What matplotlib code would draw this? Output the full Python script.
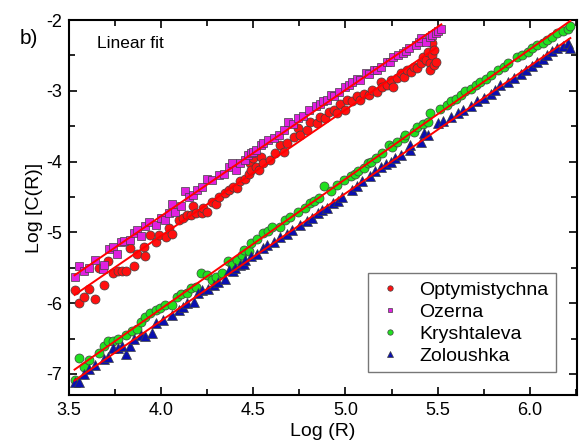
import matplotlib
matplotlib.use('Agg')
import matplotlib.pyplot as plt
import numpy as np
from matplotlib.ticker import MultipleLocator

plt.rcParams['font.family'] = ['Liberation Sans', 'DejaVu Sans']

# Optymistychna (red circles)
opt_x = [3.53, 3.554, 3.58, 3.61, 3.64, 3.665, 3.69, 3.71, 3.74, 3.765, 3.79, 3.81, 3.83, 3.85,
         3.87, 3.905, 3.91, 3.94, 3.97, 3.99, 4.025, 4.045, 4.06, 4.095, 4.12, 4.14, 4.16, 4.17,
         4.19, 4.22, 4.225, 4.25, 4.275, 4.30, 4.315, 4.345, 4.37, 4.39, 4.41, 4.43, 4.455, 4.475,
         4.48, 4.49, 4.50, 4.515, 4.53, 4.54, 4.55, 4.59, 4.62, 4.645, 4.665, 4.68, 4.72, 4.745,
         4.755, 4.79, 4.81, 4.845, 4.86, 4.89, 4.91, 4.935, 4.955, 4.97, 5.0, 5.01, 5.035, 5.06,
         5.08, 5.10, 5.125, 5.145, 5.17, 5.19, 5.20, 5.225, 5.245, 5.26, 5.28, 5.30, 5.32, 5.335,
         5.355, 5.37, 5.39, 5.41, 5.42, 5.435, 5.445, 5.46, 5.46, 5.47, 5.47, 5.48, 5.48, 5.49]
opt_y = [-5.81, -6.00, -5.92, -5.80, -5.94, -5.50, -5.74, -5.40, -5.57, -5.55, -5.55, -5.55, -5.22, -5.48,
         -5.31, -5.20, -5.34, -5.04, -5.13, -5.04, -5.07, -4.94, -5.02, -4.83, -4.80, -4.75, -4.75, -4.63,
         -4.73, -4.73, -4.65, -4.71, -4.57, -4.60, -4.50, -4.45, -4.40, -4.36, -4.38, -4.28, -4.24, -4.18,
         -4.02, -4.12, -3.95, -4.07, -4.12, -3.93, -4.02, -3.98, -3.88, -3.77, -3.86, -3.74, -3.65, -3.53,
         -3.62, -3.55, -3.44, -3.46, -3.37, -3.39, -3.30, -3.27, -3.32, -3.18, -3.27, -3.13, -3.15, -3.08,
         -3.13, -3.04, -3.06, -2.99, -3.01, -2.87, -2.94, -2.92, -2.85, -2.94, -2.82, -2.75, -2.80, -2.71,
         -2.73, -2.66, -2.68, -2.61, -2.52, -2.56, -2.45, -2.61, -2.71, -2.49, -2.33, -2.42, -2.64, -2.59]

# Ozerna (magenta squares)
oz_x = [3.53, 3.555, 3.58, 3.61, 3.64, 3.685, 3.69, 3.715, 3.74, 3.76, 3.78, 3.80, 3.83, 3.85,
        3.87, 3.89, 3.91, 3.935, 3.97, 4.0, 4.02, 4.045, 4.06, 4.075, 4.11, 4.13, 4.15, 4.17,
        4.195, 4.22, 4.25, 4.275, 4.315, 4.34, 4.37, 4.385, 4.405, 4.43, 4.455, 4.47, 4.49, 4.50,
        4.515, 4.54, 4.555, 4.58, 4.61, 4.64, 4.665, 4.69, 4.715, 4.74, 4.77, 4.80, 4.84, 4.86,
        4.88, 4.90, 4.92, 4.94, 4.965, 5.0, 5.02, 5.035, 5.06, 5.08, 5.11, 5.13, 5.155, 5.17,
        5.19, 5.225, 5.24, 5.26, 5.285, 5.31, 5.33, 5.345, 5.38, 5.40, 5.41, 5.435, 5.46, 5.47,
        5.49, 5.50, 5.52]
oz_y = [-5.63, -5.47, -5.54, -5.51, -5.39, -5.52, -5.46, -5.23, -5.20, -5.30, -5.13, -5.12, -5.11, -5.01,
        -4.96, -5.05, -4.91, -4.86, -4.90, -4.80, -4.82, -4.73, -4.60, -4.71, -4.63, -4.41, -4.50, -4.47,
        -4.40, -4.36, -4.24, -4.26, -4.19, -4.17, -4.07, -4.02, -4.12, -4.02, -3.98, -3.91, -3.88, -3.86,
        -3.84, -3.77, -3.74, -3.70, -3.67, -3.62, -3.55, -3.44, -3.47, -3.39, -3.35, -3.27, -3.22, -3.19,
        -3.15, -3.13, -3.06, -3.08, -3.01, -2.94, -2.92, -2.87, -2.83, -2.85, -2.75, -2.76, -2.71, -2.70,
        -2.66, -2.59, -2.60, -2.52, -2.50, -2.47, -2.44, -2.40, -2.35, -2.31, -2.26, -2.31, -2.24, -2.21,
        -2.19, -2.16, -2.12]

# Kryshtaleva (green circles)
kr_x = [3.53, 3.554, 3.58, 3.61, 3.665, 3.69, 3.71, 3.74, 3.765, 3.81, 3.84, 3.87, 3.89, 3.91,
        3.94, 3.97, 3.995, 4.02, 4.06, 4.085, 4.11, 4.14, 4.16, 4.19, 4.215, 4.25, 4.275, 4.30,
        4.33, 4.36, 4.385, 4.41, 4.44, 4.45, 4.475, 4.49, 4.52, 4.555, 4.58, 4.60, 4.645, 4.67,
        4.70, 4.74, 4.78, 4.81, 4.83, 4.855, 4.885, 4.92, 4.955, 4.99, 5.03, 5.05, 5.07, 5.10,
        5.12, 5.14, 5.165, 5.20, 5.235, 5.25, 5.28, 5.32, 5.325, 5.37, 5.39, 5.42, 5.45, 5.46,
        5.515, 5.55, 5.57, 5.60, 5.625, 5.65, 5.68, 5.71, 5.73, 5.76, 5.79, 5.825, 5.86, 5.88,
        5.93, 5.96, 5.99, 6.01, 6.04, 6.07, 6.095, 6.12, 6.15, 6.18, 6.205, 6.22]
kr_y = [-7.08, -6.78, -6.90, -6.80, -6.70, -6.60, -6.54, -6.53, -6.51, -6.45, -6.40, -6.36, -6.26, -6.19,
        -6.14, -6.10, -6.07, -6.03, -6.03, -5.91, -5.87, -5.86, -5.79, -5.77, -5.57, -5.60, -5.67, -5.63,
        -5.58, -5.41, -5.46, -5.39, -5.32, -5.25, -5.27, -5.15, -5.10, -5.01, -4.98, -4.92, -4.92, -4.82,
        -4.78, -4.71, -4.66, -4.59, -4.55, -4.52, -4.35, -4.42, -4.33, -4.26, -4.21, -4.18, -4.14, -4.09,
        -4.02, -4.00, -3.95, -3.88, -3.77, -3.80, -3.72, -3.67, -3.62, -3.58, -3.51, -3.47, -3.44, -3.32,
        -3.25, -3.20, -3.15, -3.12, -3.06, -3.00, -2.97, -2.92, -2.87, -2.84, -2.78, -2.71, -2.67, -2.61,
        -2.52, -2.50, -2.45, -2.40, -2.35, -2.32, -2.28, -2.24, -2.19, -2.15, -2.12, -2.08]

# Zoloushka (blue triangles)
zo_x = [3.53, 3.554, 3.58, 3.61, 3.64, 3.69, 3.71, 3.74, 3.765, 3.79, 3.81, 3.83, 3.85, 3.89,
        3.91, 3.95, 3.97, 4.01, 4.06, 4.095, 4.12, 4.14, 4.18, 4.20, 4.22, 4.255, 4.285, 4.31,
        4.345, 4.37, 4.39, 4.40, 4.43, 4.45, 4.455, 4.49, 4.52, 4.55, 4.575, 4.61, 4.645, 4.68,
        4.71, 4.755, 4.79, 4.82, 4.85, 4.875, 4.90, 4.93, 4.96, 4.98, 5.035, 5.06, 5.09, 5.135,
        5.16, 5.19, 5.22, 5.245, 5.27, 5.30, 5.35, 5.35, 5.41, 5.425, 5.45, 5.50, 5.53, 5.57,
        5.61, 5.64, 5.68, 5.715, 5.75, 5.79, 5.81, 5.84, 5.88, 5.915, 5.95, 5.98, 6.01, 6.04,
        6.07, 6.095, 6.12, 6.15, 6.18, 6.205, 6.22]
zo_y = [-7.11, -7.12, -7.00, -6.93, -6.87, -6.79, -6.76, -6.64, -6.64, -6.61, -6.72, -6.61, -6.50, -6.45,
        -6.46, -6.42, -6.28, -6.24, -6.17, -6.10, -6.05, -6.00, -5.99, -5.86, -5.81, -5.80, -5.74, -5.70,
        -5.66, -5.53, -5.55, -5.51, -5.46, -5.44, -5.39, -5.34, -5.30, -5.22, -5.18, -5.13, -5.06, -5.02,
        -4.97, -4.90, -4.84, -4.80, -4.73, -4.68, -4.65, -4.59, -4.55, -4.50, -4.40, -4.35, -4.28, -4.21,
        -4.14, -4.07, -4.04, -4.00, -3.95, -3.91, -3.84, -3.77, -3.72, -3.60, -3.62, -3.46, -3.43, -3.37,
        -3.31, -3.27, -3.21, -3.15, -3.10, -3.04, -2.99, -2.92, -2.88, -2.82, -2.76, -2.71, -2.65, -2.59,
        -2.55, -2.49, -2.44, -2.40, -2.36, -2.33, -2.39]

series = [
    ('Optymistychna', opt_x, opt_y, 'o', '#ff1010', 6.5),
    ('Ozerna', oz_x, oz_y, 's', '#e020e0', 5.5),
    ('Kryshtaleva', kr_x, kr_y, 'o', '#20e020', 6.5),
    ('Zoloushka', zo_x, zo_y, '^', '#0a10b0', 6.5),
]

fig = plt.figure(figsize=(5.85, 4.45), dpi=100)
ax = fig.add_axes([0.118, 0.112, 0.868, 0.843])

for name, xs, ys, mk, col, ms in series:
    ax.plot(xs, ys, linestyle='none', marker=mk, markersize=ms, markerfacecolor=col,
            markeredgecolor='#404040', markeredgewidth=0.5, label=name)

# linear fits
for name, xs, ys, mk, col, ms in series:
    xs = np.array(xs)
    k, b = np.polyfit(xs, ys, 1)
    xl = np.array([xs.min(), xs.max()])
    ax.plot(xl, k * xl + b, color='#ff0000', linewidth=1.4, zorder=5)

ax.set_xlim(3.5, 6.255)
ax.set_ylim(-7.3, -2)
ax.xaxis.set_major_locator(MultipleLocator(0.5))
ax.xaxis.set_minor_locator(MultipleLocator(0.25))
ax.yaxis.set_major_locator(MultipleLocator(1))
ax.yaxis.set_minor_locator(MultipleLocator(0.5))
ax.set_xticks([3.5, 4.0, 4.5, 5.0, 5.5, 6.0])
ax.set_xticklabels(['3.5', '4.0', '4.5', '5.0', '5.5', '6.0'])
ax.set_yticks([-7, -6, -5, -4, -3, -2])
ax.set_yticklabels(['-7', '-6', '-5', '-4', '-3', '-2'])
ax.tick_params(which='both', direction='in', top=True, right=True, labelsize=13, width=1.2)
ax.tick_params(which='major', length=6, pad=5)
ax.tick_params(which='minor', length=4)
for s in ax.spines.values():
    s.set_linewidth(1.5)

ax.set_xlabel('Log (R)', fontsize=14, labelpad=3)
ax.set_ylabel('Log [C(R)]', fontsize=14, labelpad=2)

ax.text(0.055, 0.925, 'Linear fit', transform=ax.transAxes, fontsize=12.5)
fig.text(0.034, 0.9, 'b)', fontsize=15)

leg = ax.legend(loc='lower right', bbox_to_anchor=(0.978, 0.035), fontsize=14, markerscale=0.6,
                frameon=True, fancybox=False, edgecolor='#555555', handletextpad=0.8,
                borderpad=0.4, labelspacing=0.22, handlelength=1.4)
leg.get_frame().set_linewidth(1.0)

fig.savefig('out.png', dpi=100)
